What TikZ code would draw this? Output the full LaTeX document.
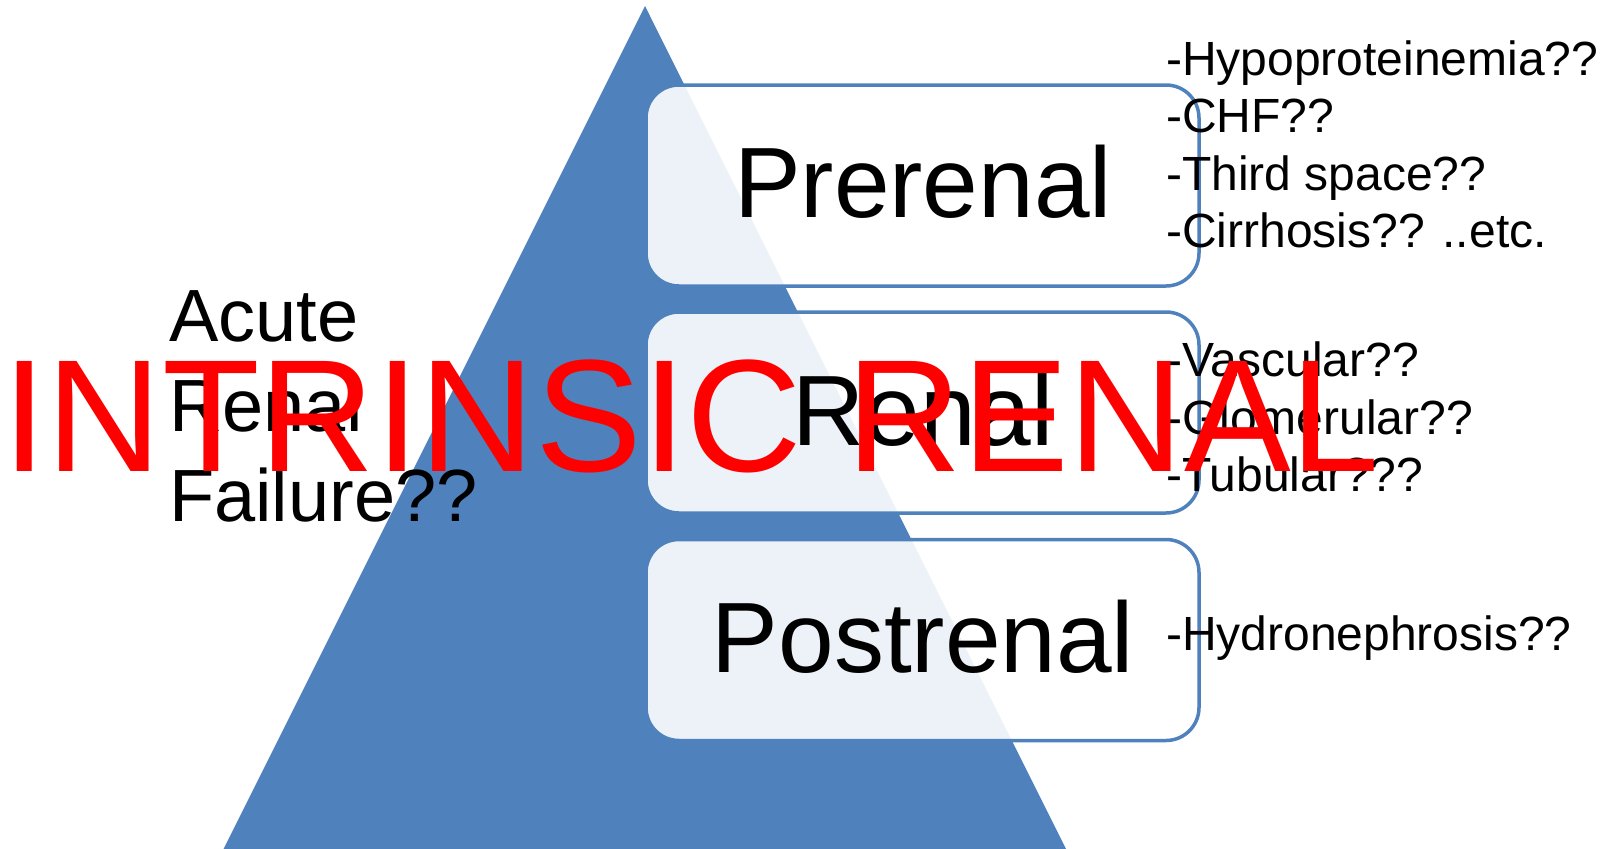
\documentclass[tikz,border=0pt]{standalone}
\usepackage{fontspec}
\setmainfont{Liberation Sans}
\definecolor{pyblue}{HTML}{4F81BD}
\definecolor{alert}{HTML}{FF0000}
\begin{document}
\begin{tikzpicture}[x=1pt,y=-1pt,
  stagebox/.style={draw=pyblue, line width=3.5pt, fill=white, fill opacity=0.9,
    rounded corners=33pt, minimum width=553pt, minimum height=201pt, inner sep=0pt},
  stagelabel/.style={anchor=base, inner sep=0pt, font=\fontsize{100}{120}\selectfont},
  cause/.style={anchor=base west, inner sep=0pt, font=\fontsize{48}{57.6}\selectfont},
  sidetext/.style={anchor=base west, inner sep=0pt, font=\fontsize{74}{89}\selectfont},
  overlay/.style={anchor=base west, inner sep=0pt, text=alert, font=\fontsize{160}{192}\selectfont}]
\useasboundingbox (0,0) rectangle (1615,849);

% pyramid
\fill[pyblue] (645,6) -- (1066,849) -- (223.5,849) -- cycle;

% stage boxes
\node[stagebox] (pre)  at (922.5,185.5) {};
\node[stagebox] (ren)  at (922.5,412.5) {};
\node[stagebox] (post) at (922.5,640) {};

\node[stagelabel] (preL)  at (923,217) {Prerenal};
\node[stagelabel] (renL)  at (923,445) {Renal};
\node[stagelabel] (postL) at (923,672) {Postrenal};

% causes
\node[cause] (c1) at (1166,75)    {-Hypoproteinemia??};
\node[cause] (c2) at (1166,132.6) {-CHF??};
\node[cause] (c3) at (1166,190.2) {-Third space??};
\node[cause] (c4) at (1166,247.8) {-Cirrhosis?? ..etc.};

\node[cause] (c5) at (1166,376.7) {-Vascular??};
\node[cause] (c6) at (1166,434.2) {-Glomerular??};
\node[cause] (c7) at (1166,491.7) {-Tubular???};

\node[cause] (c8) at (1166,650) {-Hydronephrosis??};

% title on the left
\node[sidetext] (t1) at (169,341.7) {Acute};
\node[sidetext] (t2) at (169,431.5) {Renal};
\node[sidetext] (t3) at (169,521)   {Failure??};

% red overlay
\node[overlay] (intr) at (2,471) {INTRINSIC RENAL};
\end{tikzpicture}
\end{document}
